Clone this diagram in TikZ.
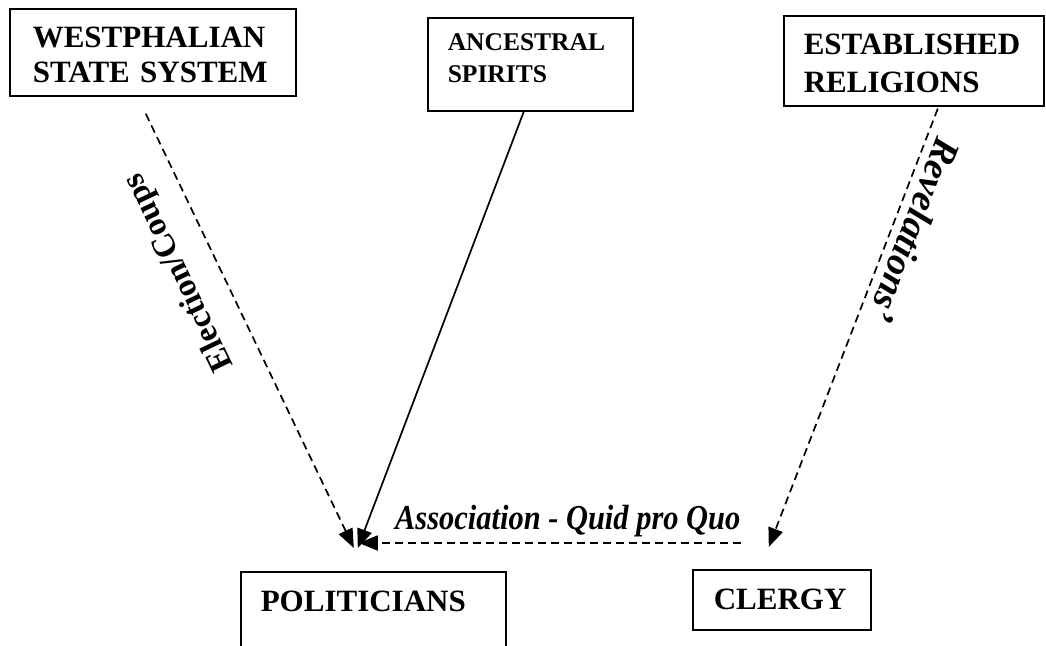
\documentclass[tikz,border=0pt]{standalone}
\usepackage{fontspec}
\setmainfont{Liberation Serif}
\usetikzlibrary{arrows.meta,positioning}
\tikzset{
  box/.style={draw,line width=1.6pt,anchor=north west,align=left,
    font=\fontsize{31}{35}\selectfont\bfseries},
  dasharrow/.style={line width=1.7pt,dash pattern=on 8pt off 5pt,
    -{Triangle[length=19pt,width=15pt]}},
  dashback/.style={line width=1.7pt,dash pattern=on 8pt off 5pt,
    {Triangle[length=19pt,width=15pt]}-},
  solidarrow/.style={line width=1.7pt,-{Triangle[length=19pt,width=15pt]}},
  lbl/.style={inner sep=0pt,font=\fontsize{33}{33}\selectfont\bfseries\itshape}
}
\begin{document}
\begin{tikzpicture}[x=1pt,y=1pt]
\useasboundingbox (0,0) rectangle (1046,-645);
% the boxes
\node[box,inner xsep=23pt,text width=240pt,minimum width=286pt,minimum height=87pt,text depth=30.5pt] (wss) at (9,-8) {WESTPHALIAN\\STATE SYSTEM};
\node[box,inner xsep=20pt,text width=165pt,minimum width=205pt,minimum height=93pt,text depth=44pt,
  font=\fontsize{25.5}{32}\selectfont\bfseries] (anc) at (427,-17) {ANCESTRAL\\SPIRITS};
\node[box,inner xsep=20pt,text width=220pt,minimum width=260pt,minimum height=90pt,text depth=33.5pt,
  font=\fontsize{31}{38}\selectfont\bfseries] (est) at (783,-15) {ESTABLISHED\\RELIGIONS};
\node[box,inner xsep=20pt,inner ysep=19pt,text width=225pt,text depth=30pt] (pol) at (240,-571) {POLITICIANS};
\node[box,inner xsep=21pt,text width=136pt,minimum width=178pt,minimum height=60pt] (cle) at (692,-569) {CLERGY};
% the links
\draw[dashback] ([shift={(-19.5,23)}]pol.north) -- node[lbl,pos=0.667,sloped,allow upside down,above=22pt,
  font=\fontsize{33}{33}\selectfont\bfseries] (elec) {Election/Coups} ([shift={(-9,-13)}]wss.south);
\draw[solidarrow] ([shift={(-6.5,0)}]anc.south) -- ([shift={(-15.5,23)}]pol.north);
\draw[dasharrow] ([shift={(24,-2)}]est.south) -- node[lbl,pos=0.26,sloped,allow upside down,above=8pt,
  font=\fontsize{38}{38}\selectfont\bfseries\itshape] (rev) {Revelations'} ([shift={(-13,22)}]cle.north);
\draw[dasharrow] ([shift={(-41,26)}]cle.north) -- node[lbl,pos=0.453,above=5pt,xscale=0.87,
  font=\fontsize{35}{35}\selectfont\bfseries\itshape] (quid) {Association - Quid pro Quo} ([shift={(-14.5,28)}]pol.north);
\end{tikzpicture}
\end{document}
